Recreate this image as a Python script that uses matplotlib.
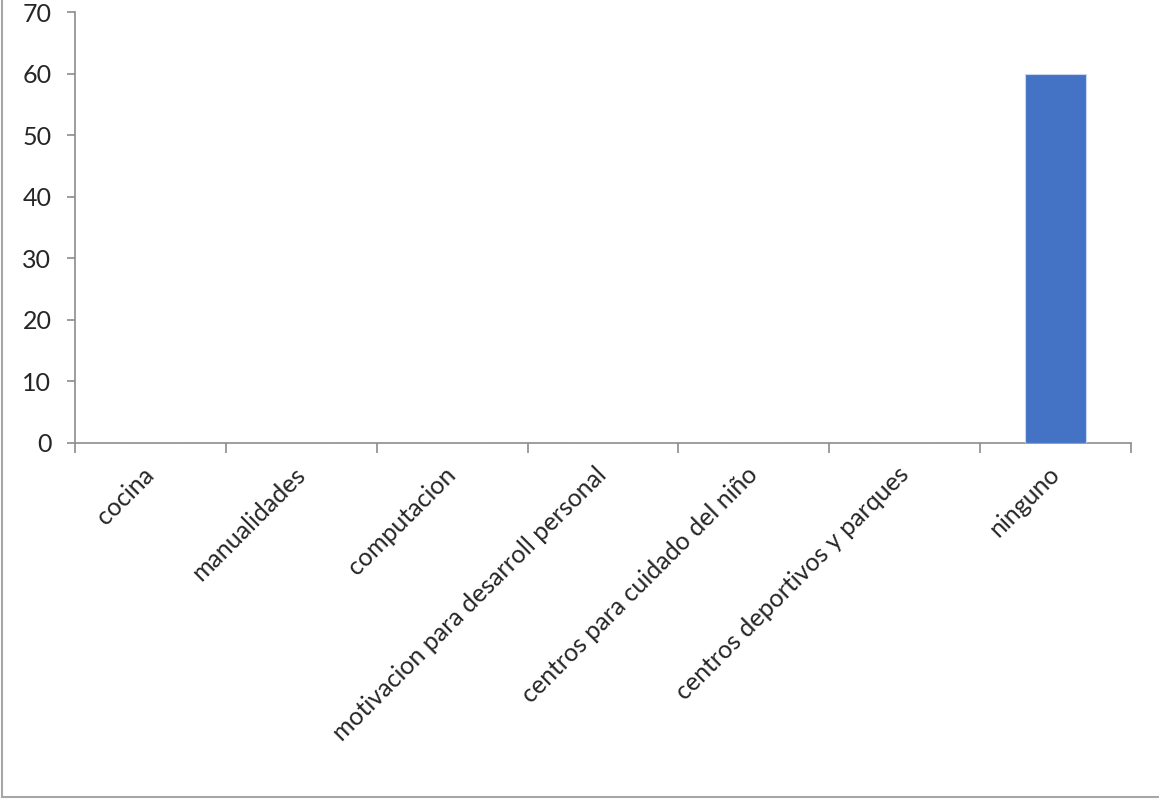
import numpy as np
import matplotlib.pyplot as plt
from matplotlib.lines import Line2D

categorias = ["cocina", "manualidades", "computacion",
              "motivacion para desarroll personal",
              "centros para cuidado del niño",
              "centros deportivos y parques", "ninguno"]
valores = [0, 0, 0, 0, 0, 0, 60]

plt.rcParams['font.family'] = ['Lato', 'DejaVu Sans']

fig = plt.figure(figsize=(11.59, 7.99), dpi=100)
ax = fig.add_axes([75 / 1159, 1 - 443 / 799, (1131 - 75) / 1159, (443 - 12) / 799])

x = np.arange(len(categorias))
ax.bar(x, valores, width=0.4, color="#4472C4", edgecolor="#c9d6ee", linewidth=0.8, zorder=3)

ax.set_xlim(-0.5, len(categorias) - 0.5)
ax.set_ylim(0, 70)
ax.set_yticks(np.arange(0, 71, 10))

gris = "#8c8c8c"
for s in ["top", "right"]:
    ax.spines[s].set_visible(False)
for s in ["left", "bottom"]:
    ax.spines[s].set_color(gris)
    ax.spines[s].set_linewidth(1.2)

ax.tick_params(axis="y", length=6, width=1.2, color=gris, pad=11, labelsize=18, labelcolor="#262626")

# marcas entre categorias, etiquetas en el centro
ax.set_xticks(np.arange(-0.5, len(categorias)), minor=True)
ax.set_xticks(x)
ax.set_xticklabels(categorias, rotation=45, ha="right", va="center",
                   rotation_mode="anchor", fontsize=18, color="#262626")
ax.tick_params(axis="x", which="major", length=0, pad=20)
ax.tick_params(axis="x", which="minor", length=7, width=1.2, color=gris)

# marco del area del grafico
fig.add_artist(Line2D([2 / 1159, 2 / 1159], [2 / 799, 1], transform=fig.transFigure, color="#a6a6a6", lw=1.5))
fig.add_artist(Line2D([2 / 1159, 1], [2 / 799, 2 / 799], transform=fig.transFigure, color="#a6a6a6", lw=1.5))

fig.savefig("out.png", dpi=100)
